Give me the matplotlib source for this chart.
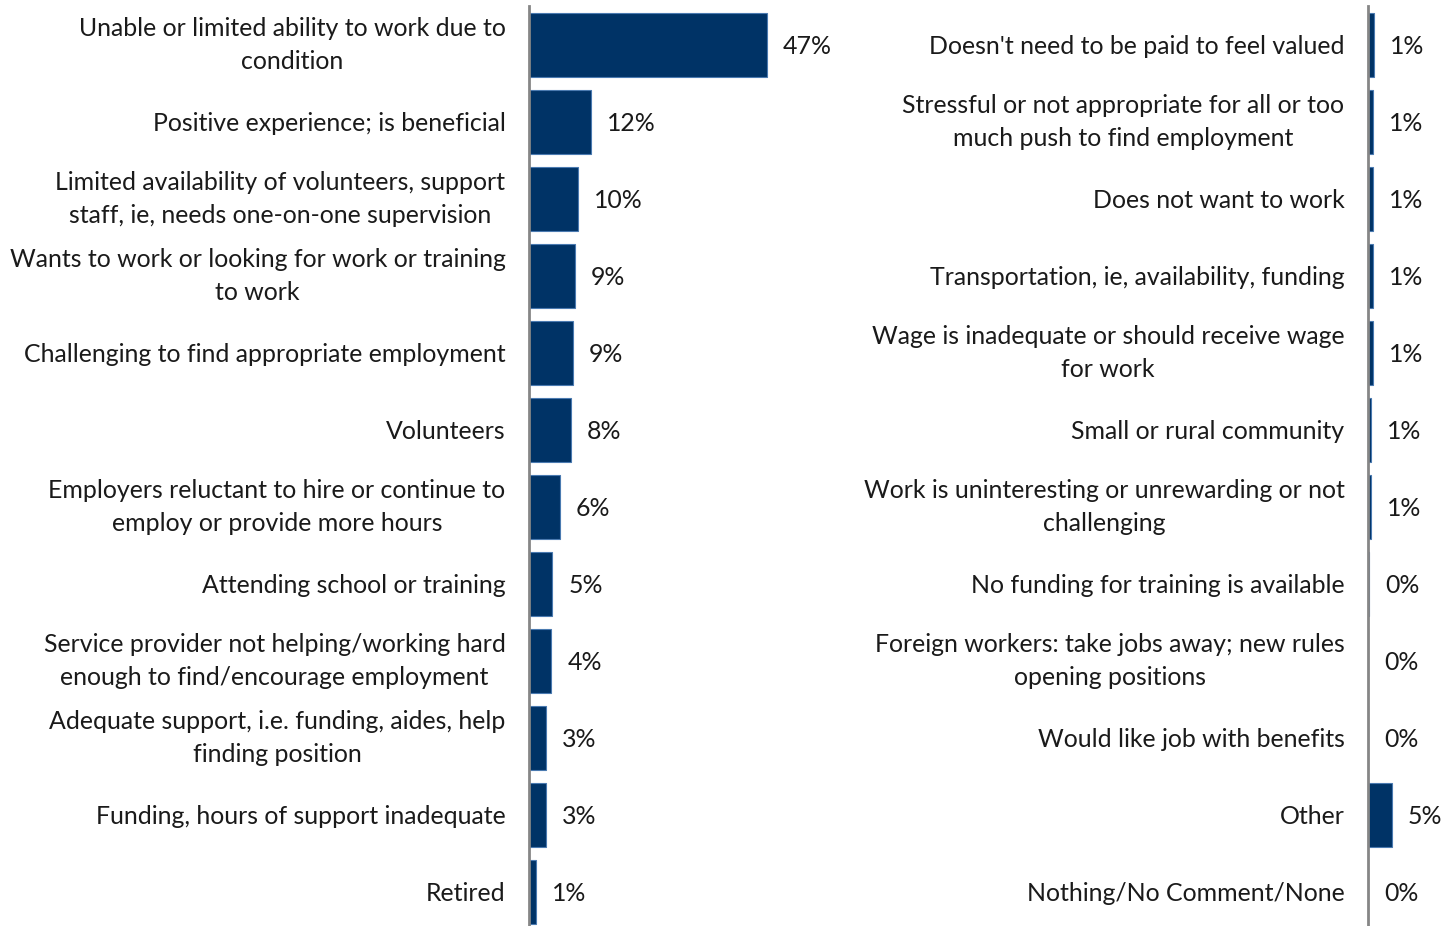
import matplotlib.pyplot as plt
import numpy as np

plt.rcParams['font.family'] = ['Lato', 'DejaVu Sans']

left_labels = [
    'Unable or limited ability to work due to\ncondition',
    'Positive experience; is beneficial',
    'Limited availability of volunteers, support\nstaff, ie, needs one-on-one supervision',
    'Wants to work or looking for work or training\nto work',
    'Challenging to find appropriate employment',
    'Volunteers',
    'Employers reluctant to hire or continue to\nemploy or provide more hours',
    'Attending school or training',
    'Service provider not helping/working hard\nenough to find/encourage employment',
    'Adequate support, i.e. funding, aides, help\nfinding position',
    'Funding, hours of support inadequate',
    'Retired',
]
left_values = [47.0, 12.2, 9.7, 9.1, 8.6, 8.3, 6.1, 4.6, 4.4, 3.4, 3.3, 1.4]

right_labels = [
    "Doesn't need to be paid to feel valued",
    'Stressful or not appropriate for all or too\nmuch push to find employment',
    'Does not want to work',
    'Transportation, ie, availability, funding',
    'Wage is inadequate or should receive wage\nfor work',
    'Small or rural community',
    'Work is uninteresting or unrewarding or not\nchallenging',
    'No funding for training is available',
    'Foreign workers: take jobs away; new rules\nopening positions',
    'Would like job with benefits',
    'Other',
    'Nothing/No Comment/None',
]
right_values = [1.1, 1.0, 1.0, 1.0, 0.9, 0.6, 0.6, 0.2, 0.0, 0.0, 4.7, 0.0]

W, H = 1442, 926
fig = plt.figure(figsize=(W / 100, H / 100), dpi=100)

bar_color = '#003366'
edge_color = '#4a7ab0'
px_per_pct = 5.06
fs = 17.9


def panel(x0, x1, labels, values):
    ax = fig.add_axes([x0 / W, 0, (x1 - x0) / W, (H - 6.5) / H])
    y = np.arange(len(values))
    ax.barh(y, values, height=0.83, color=bar_color, edgecolor=edge_color, linewidth=0.8)
    ax.set_ylim((H - 45) / 77, -0.5)
    ax.set_xlim(0, (x1 - x0) / px_per_pct)
    ax.set_yticks(y)
    ax.set_yticklabels(labels, fontsize=fs, color='#1a1a1a', linespacing=1.5)
    for lbl in ax.get_yticklabels():
        lbl.set_multialignment('center')
        if '\n' in lbl.get_text():
            lbl.set_verticalalignment('center')
    ax.tick_params(axis='y', length=0, pad=17)
    ax.set_xticks([])
    for s in ['top', 'right', 'bottom']:
        ax.spines[s].set_visible(False)
    ax.spines['left'].set_color('#868686')
    ax.spines['left'].set_linewidth(2)
    for yi, v in zip(y, values):
        ax.annotate(f'{v:.0f}%', (v, yi), xytext=(16, -2), textcoords='offset pixels',
                    va='center', ha='left', fontsize=fs, color='#1a1a1a',
                    annotation_clip=False)
    return ax


panel(529, 850, left_labels, left_values)
panel(1368, 1442, right_labels, right_values)

fig.savefig('out.png', dpi=100)
